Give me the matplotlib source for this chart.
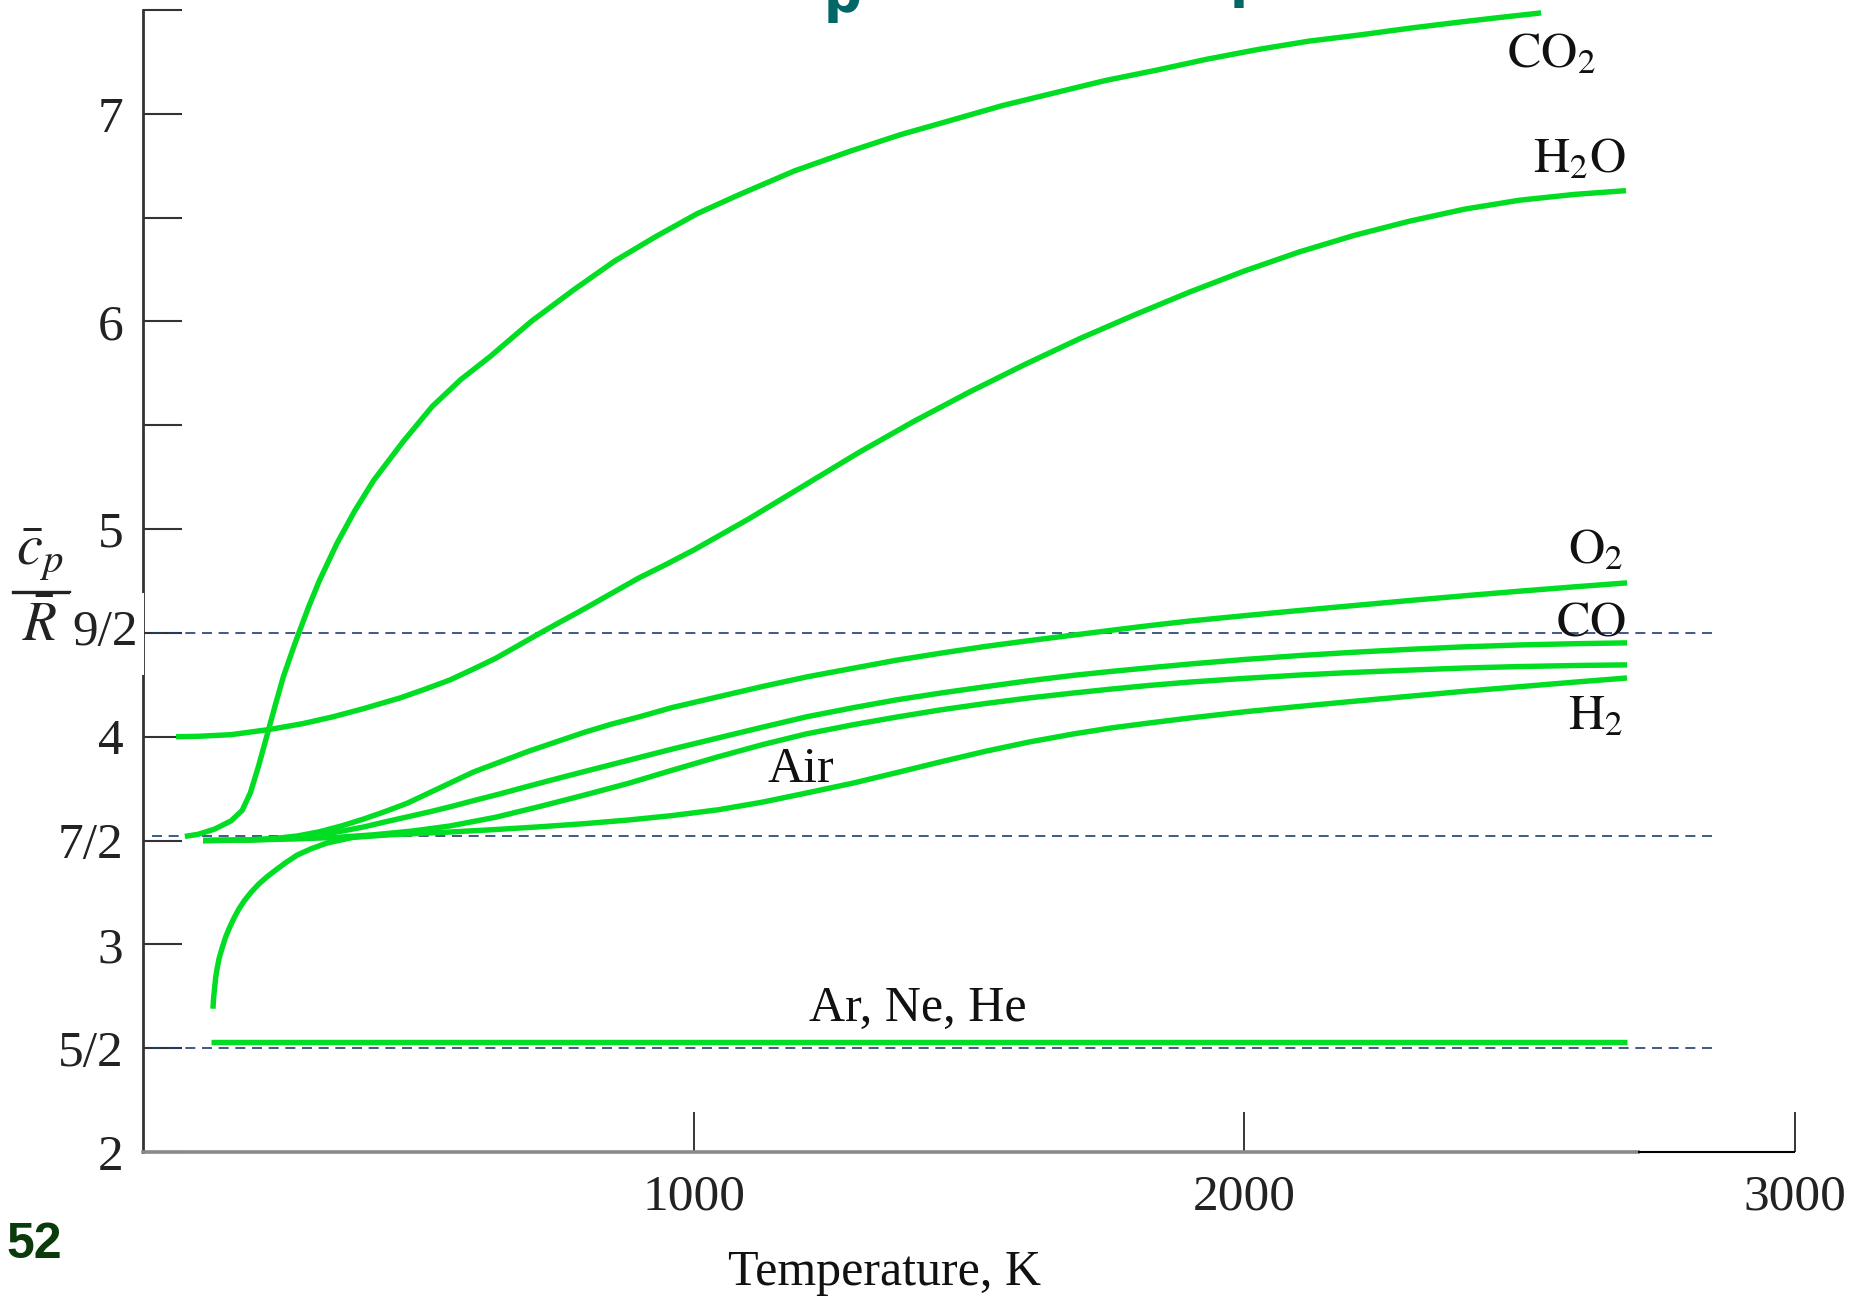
import matplotlib
matplotlib.use('Agg')
import matplotlib.pyplot as plt
from matplotlib.lines import Line2D
from matplotlib.patches import Rectangle

plt.rcParams['mathtext.fontset'] = 'stix'
SERIF = 'Liberation Serif'

# ---------------- data ----------------
T_co2 = [76, 100, 130, 160, 180, 195, 210, 225, 240, 255, 276, 300, 320, 352, 385, 419, 472, 525,
         577, 630, 705, 781, 856, 932, 1007, 1082, 1183, 1284, 1376, 1469, 1561, 1654, 1747, 1840,
         1932, 2025, 2117, 2210, 2302, 2395, 2467, 2539]
cp_co2 = [3.52, 3.53, 3.555, 3.595, 3.645, 3.73, 3.86, 4.005, 4.15, 4.29, 4.45, 4.62, 4.75, 4.93,
          5.09, 5.235, 5.42, 5.59, 5.72, 5.83, 6.00, 6.15, 6.29, 6.41, 6.52, 6.61, 6.725, 6.82, 6.90,
          6.97, 7.04, 7.10, 7.16, 7.21, 7.263, 7.31, 7.35, 7.38, 7.413, 7.443, 7.465, 7.486]

T_h2o = [60, 100, 160, 230, 290, 345, 400, 467, 510, 557, 600, 640, 680, 721, 760, 800, 850, 900,
         950, 1000, 1050, 1100, 1150, 1200, 1250, 1300, 1350, 1400, 1450, 1500, 1600, 1700, 1800,
         1900, 2000, 2100, 2200, 2300, 2400, 2500, 2600, 2693]
cp_h2o = [4.00, 4.002, 4.01, 4.035, 4.063, 4.096, 4.135, 4.187, 4.227, 4.273, 4.326, 4.377, 4.437,
          4.499, 4.556, 4.614, 4.689, 4.764, 4.83, 4.899, 4.974, 5.049, 5.129, 5.209, 5.289, 5.369,
          5.444, 5.519, 5.589, 5.659, 5.791, 5.916, 6.031, 6.141, 6.243, 6.335, 6.415, 6.483,
          6.541, 6.584, 6.612, 6.63]

T_o2 = [109, 180, 240, 280, 320, 360, 400, 440, 480, 520, 560, 600, 650, 700, 750, 800, 850, 900,
        960, 1044, 1125, 1205, 1290, 1367, 1450, 1530, 1610, 1691, 1760, 1827, 1900, 2000, 2100,
        2200, 2300, 2400, 2500, 2600, 2695]
cp_o2 = [3.50, 3.502, 3.51, 3.522, 3.542, 3.57, 3.603, 3.64, 3.68, 3.73, 3.78, 3.83, 3.88, 3.93,
         3.975, 4.02, 4.06, 4.095, 4.14, 4.192, 4.242, 4.288, 4.33, 4.368, 4.403, 4.435, 4.463,
         4.49, 4.513, 4.535, 4.557, 4.583, 4.608, 4.632, 4.656, 4.679, 4.701, 4.722, 4.741]

T_co = [109, 180, 240, 280, 320, 360, 400, 440, 480, 520, 557, 600, 650, 700, 760, 820, 882, 960,
        1044, 1125, 1205, 1290, 1367, 1450, 1530, 1610, 1691, 1760, 1827, 1900, 2000, 2100, 2200,
        2300, 2400, 2500, 2600, 2695]
cp_co = [3.50, 3.502, 3.507, 3.515, 3.528, 3.545, 3.565, 3.59, 3.614, 3.638, 3.662, 3.692, 3.726,
         3.762, 3.804, 3.845, 3.887, 3.94, 3.994, 4.046, 4.096, 4.14, 4.177, 4.211, 4.241, 4.27,
         4.296, 4.315, 4.332, 4.35, 4.372, 4.391, 4.407, 4.421, 4.433, 4.442, 4.448, 4.452]

T_air = [109, 200, 280, 350, 420, 490, 557, 640, 719, 800, 882, 960, 1044, 1125, 1205, 1290, 1367,
         1450, 1530, 1610, 1691, 1760, 1827, 1900, 2000, 2100, 2200, 2300, 2400, 2500, 2600, 2695]
cp_air = [3.50, 3.503, 3.508, 3.515, 3.528, 3.546, 3.57, 3.612, 3.663, 3.718, 3.776, 3.838, 3.903,
          3.962, 4.014, 4.058, 4.094, 4.13, 4.16, 4.187, 4.211, 4.23, 4.247, 4.263, 4.281, 4.297,
          4.31, 4.321, 4.331, 4.338, 4.343, 4.346]

T_h2 = [127, 128, 130, 132, 134, 138, 144, 150, 157, 165, 174, 184, 196, 210, 225, 242, 260, 280,
        305, 334, 381, 450, 557, 640, 719, 800, 882, 960, 1044, 1125, 1205, 1290, 1367, 1450, 1530,
        1610, 1691, 1760, 1827, 1900, 2000, 2100, 2200, 2300, 2400, 2500, 2600, 2695]
cp_h2 = [2.69, 2.735, 2.79, 2.84, 2.875, 2.93, 2.985, 3.035, 3.08, 3.125, 3.17, 3.21, 3.25, 3.29,
         3.325, 3.36, 3.395, 3.43, 3.46, 3.488, 3.515, 3.528, 3.541, 3.553, 3.566, 3.581, 3.599,
         3.62, 3.648, 3.685, 3.729, 3.777, 3.826, 3.88, 3.93, 3.975, 4.014, 4.043, 4.066, 4.09,
         4.12, 4.146, 4.171, 4.195, 4.219, 4.241, 4.263, 4.283]

T_mono = [123, 2695]
cp_mono = [2.53, 2.53]

ref_levels = [4.5, 3.52, 2.5]
ref_T_range = (16, 2858)

ytick_vals = [2, 2.5, 3, 3.5, 4, 4.5, 5, 5.5, 6, 6.5, 7, 7.5]
ytick_labels = ['2', '5/2', '3', '7/2', '4', '', '5', '', '6', '', '7', '']
xtick_vals = [1000, 2000, 3000]
xtick_labels = ['1000', '2000', '3000']

# label text, anchor T, anchor cp (baseline), alignment
curve_labels = [
    (r'$\mathrm{CO_2}$', 2638, 7.226, 'right'),
    (r'$\mathrm{H_2O}$', 2693, 6.721, 'right'),
    (r'$\mathrm{O_2}$', 2688, 4.837, 'right'),
    (r'$\mathrm{CO}$', 2693, 4.486, 'right'),
    (r'$\mathrm{H_2}$', 2688, 4.038, 'right'),
]
plain_labels = [
    ('Air', 1134, 3.782),
    ('Ar, Ne, He', 1209, 2.631),
]

# ---------------- figure ----------------
W, H = 1858, 1296
fig = plt.figure(figsize=(W / 100, H / 100), dpi=100)
ax = fig.add_axes([143 / W, 1 - 1152 / H, (1795 - 143) / W, (1152 - 10) / H])
ax.set_xlim(0, 3000)
ax.set_ylim(2, 7.5)

GREEN = '#00dd22'
NAVY = '#1b3f73'

ax.hlines(ref_levels, ref_T_range[0], ref_T_range[1], colors=NAVY, linewidth=1.2,
          linestyles=(0, (6, 4)), zorder=2)

for T, cp in [(T_co2, cp_co2), (T_h2o, cp_h2o), (T_o2, cp_o2), (T_co, cp_co),
              (T_air, cp_air), (T_h2, cp_h2), (T_mono, cp_mono)]:
    ax.plot(T, cp, color=GREEN, lw=3.9, solid_capstyle='butt', solid_joinstyle='round', zorder=3)

for txt, x, y, ha in curve_labels:
    ax.text(x, y, txt, ha=ha, va='baseline', fontsize=36, color='#111111')
for txt, x, y in plain_labels:
    ax.text(x, y, txt, ha='left', va='baseline', fontsize=36, family=SERIF, color='#111111')

# spines
for s in ['top', 'right']:
    ax.spines[s].set_visible(False)
ax.spines['left'].set_color('#333333')
ax.spines['left'].set_linewidth(2.0)
ax.spines['bottom'].set_color('#8a8a8a')
ax.spines['bottom'].set_linewidth(2.6)
ax.spines['bottom'].set_bounds(0, 2715)
ax.hlines([2], 2715, 3000, colors='black', linewidth=1.5, clip_on=False, zorder=3)

ax.set_yticks(ytick_vals)
ax.set_yticklabels(ytick_labels, family=SERIF)
ax.set_xticks(xtick_vals)
ax.set_xticklabels(xtick_labels, family=SERIF)
ax.tick_params(axis='y', direction='in', length=28, width=1.5, color='#333333', pad=14,
               labelsize=37, labelcolor='#222222')
ax.tick_params(axis='x', direction='in', length=29, width=1.1, color='black', pad=16,
               labelsize=37, labelcolor='#222222')

# 9/2 label with white background over the spine
fig.add_artist(Rectangle((70 / W, 1 - 675 / H), (144 - 70) / W, (675 - 593) / H,
                         transform=fig.transFigure, facecolor='white', edgecolor='none', zorder=10))
fig.text(138 / W, 1 - 633 / H, '9/2', ha='right', va='center', fontsize=37, family=SERIF,
         color='#222222', zorder=11)

# y label: c_p / R fraction
fig.text(40 / W, 1 - 564 / H, r'$\bar{c}_p$', ha='center', va='baseline', fontsize=42, color='#222222')
fig.text(40 / W, 1 - 641 / H, r'$\bar{R}$', ha='center', va='baseline', fontsize=40, color='#222222')
fig.add_artist(Line2D([13 / W, 69 / W], [1 - 592 / H, 1 - 592 / H], transform=fig.transFigure,
                      color='#222222', lw=2.4))

# x label
fig.text(885 / W, 1 - 1285 / H, 'Temperature, K', ha='center', va='baseline', fontsize=36,
         family=SERIF, color='#111111')

# slide number
fig.text(6 / W, 1 - 1258 / H, '52', ha='left', va='baseline', fontsize=36, family='Liberation Sans',
         fontweight='bold', color='#0b3b0b')

# cut-off slide title fragments at the top (cropped in the reference as well)
fig.text(824 / W, 1 - 12 / H, 'p', ha='left', va='baseline', fontsize=38, family='DejaVu Sans',
         fontweight='bold', color='#006666')
fig.text(1230 / W, 1 + 3 / H, 'p', ha='left', va='baseline', fontsize=38, family='DejaVu Sans',
         fontweight='bold', color='#006666')

fig.savefig('out.png', dpi=100, facecolor='white')
